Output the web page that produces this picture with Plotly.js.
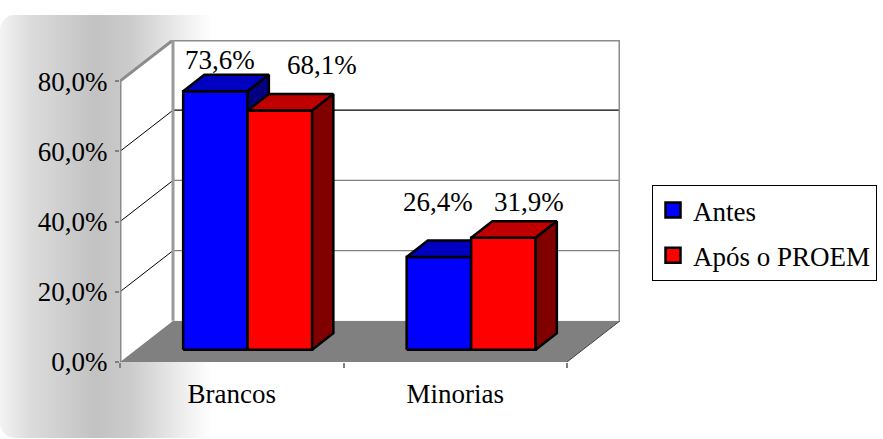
<!DOCTYPE html>
<html>
<head>
<meta charset="utf-8">
<script src="https://cdn.plot.ly/plotly-3.0.1.min.js"></script>
<style>
  html, body { margin: 0; padding: 0; background: #ffffff; }
  #bg {
    position: absolute; left: 0; top: 15px; width: 883px; height: 423px;
    border-radius: 15px;
    background: linear-gradient(to right, #f3f3f3 0px, #dcdcdc 30px, #c2c2c2 95px, #cbcbcb 130px, #ececec 180px, #ffffff 212px);
  }
  #chart { position: absolute; left: 0; top: 0; width: 883px; height: 439px; }
</style>
</head>
<body>
<div id="bg"></div>
<div id="chart"></div>
<script>
// ---- data ----
const categories = ["Brancos", "Minorias"];
const seriesNames = ["Antes", "Após o PROEM"];
const antes = [0.736, 0.264];
const aposProem = [0.681, 0.319];
const yTickVals = [0, 0.2, 0.4, 0.6, 0.8];
const yTickText = ["0,0%", "20,0%", "40,0%", "60,0%", "80,0%"];

// ---- layout constants (3D projection) ----
const PX_X = 223.5, PX_Y = 350;
const DX = 53 / PX_X, DY = 41 / PX_Y;
const XMAX = 2 + DX, YMAX = 0.8 + DY;
const W = 64.5 / PX_X;            // bar width in x units
const D0 = 0.3, D1 = 0.7;         // bar depth range (fraction)
const frontCols = ["#0000FF", "#FF0000"];
const topCols = ["#0000C0", "#C00000"];
const sideCols = ["#000080", "#800000"];
const labelShift = [[[5, 31], [42, 46]], [[-1, 55], [26, 36]]]; // [cat][series] px (x, up)
const FONT = 'Liberation Serif';

const series = [antes, aposProem];
const fmt = v => (v * 100).toFixed(1).replace('.', ',') + '%';

const traces = [];
function poly(xs, ys, fill, lineColor, lineWidth) {
  traces.push({
    type: 'scatter', mode: 'lines', x: xs, y: ys, fill: 'toself', fillcolor: fill,
    line: { color: lineColor, width: lineWidth }, hoverinfo: 'skip', showlegend: false
  });
}
function line(xs, ys, color, width) {
  traces.push({
    type: 'scatter', mode: 'lines', x: xs, y: ys,
    line: { color: color, width: width }, hoverinfo: 'skip', showlegend: false
  });
}

// floor
poly([0, 2, 2 + DX, DX, 0], [0, 0, DY, DY, 0], '#808080', 'rgba(0,0,0,0)', 0);
// left wall
poly([0, DX, DX, 0, 0], [0, DY, 0.8 + DY, 0.8, 0], '#FFFFFF', 'rgba(0,0,0,0)', 0);
// back wall
poly([DX, XMAX, XMAX, DX, DX], [DY, DY, 0.8 + DY, 0.8 + DY, DY], '#FFFFFF', 'rgba(0,0,0,0)', 0);
// gridlines
const gridCols = { 0.2: '#808080', 0.4: '#808080', 0.6: '#000000' };
[0.2, 0.4, 0.6].forEach(v => {
  line([0, DX], [v, v + DY], '#000000', 1);
  line([DX, XMAX], [v + DY, v + DY], gridCols[v], 1.2);
});
// frame
line([0, 0, DX, XMAX, XMAX], [0, 0.8, 0.8 + DY, 0.8 + DY, DY], '#8C8C8C', 3);
line([DX, DX], [DY, 0.8 + DY], '#9A9A9A', 3);
line([0, 2], [0, 0], '#808080', 2);
line([2, XMAX], [0, DY], '#404040', 1);

// bars
const annotations = [];
categories.forEach((cat, i) => {
  const c = i + 0.5;
  series.forEach((vals, s) => {
    const v = vals[i];
    const x0 = c - W + s * W + D0 * DX, x1 = x0 + W;
    const y0 = D0 * DY, y1 = y0 + v;
    const ddx = (D1 - D0) * DX, ddy = (D1 - D0) * DY;
    poly([x0, x1, x1, x0, x0], [y0, y0, y1, y1, y0], frontCols[s], '#000000', 2.5);
    poly([x0, x1, x1 + ddx, x0 + ddx, x0], [y1, y1, y1 + ddy, y1 + ddy, y1], topCols[s], '#000000', 2.5);
    poly([x1, x1 + ddx, x1 + ddx, x1, x1], [y0, y0 + ddy, y1 + ddy, y1, y0], sideCols[s], '#000000', 2.5);
    annotations.push({
      x: (x0 + x1) / 2, y: y1, xref: 'x', yref: 'y', text: fmt(v), showarrow: false,
      xanchor: 'center', yanchor: 'middle',
      xshift: labelShift[i][s][0], yshift: labelShift[i][s][1],
      font: { family: FONT, size: 27, color: '#000000' }
    });
  });
});

// legend entries
seriesNames.forEach((name, s) => {
  traces.push({
    type: 'scatter', mode: 'markers', x: [null], y: [null], name: name,
    legendgroup: 'g' + s,
    marker: { symbol: 'square', size: 15, color: frontCols[s], line: { color: '#000000', width: 2.5 } },
    hoverinfo: 'skip', showlegend: true
  });
});

const layout = {
  width: 883, height: 439,
  margin: { l: 120, r: 263, t: 40, b: 77, pad: 0 },
  paper_bgcolor: 'rgba(0,0,0,0)', plot_bgcolor: 'rgba(0,0,0,0)',
  font: { family: FONT, size: 27, color: '#000000' },
  showlegend: true,
  legend: {
    xref: 'container', yref: 'container', x: 652 / 883, y: 1 - 185 / 439,
    xanchor: 'left', yanchor: 'top', bgcolor: '#FFFFFF', bordercolor: '#000000', borderwidth: 1,
    font: { family: FONT, size: 27, color: '#000000' }, traceorder: 'grouped', tracegroupgap: 7
  },
  xaxis: {
    range: [0, XMAX], fixedrange: true, showgrid: false, zeroline: false, showline: false,
    tickmode: 'array', tickvals: [0.5, 1.5], ticktext: categories, ticks: '',
    ticklabelstandoff: 13, tickfont: { family: FONT, size: 27, color: '#000000' },
    minor: { tickmode: 'linear', tick0: 0, dtick: 1, ticks: 'outside', ticklen: 5, tickwidth: 2, tickcolor: '#808080', showgrid: false }
  },
  yaxis: {
    range: [0, YMAX], fixedrange: true, showgrid: false, zeroline: false, showline: false,
    tickmode: 'array', tickvals: yTickVals, ticktext: yTickText,
    tickfont: { family: FONT, size: 27, color: '#000000' },
    ticks: 'outside', ticklen: 4, tickwidth: 2, tickcolor: '#808080', ticklabelstandoff: 2
  },
  annotations: annotations
};

Plotly.newPlot('chart', traces, layout, { displayModeBar: false, staticPlot: true });
</script>
</body>
</html>
